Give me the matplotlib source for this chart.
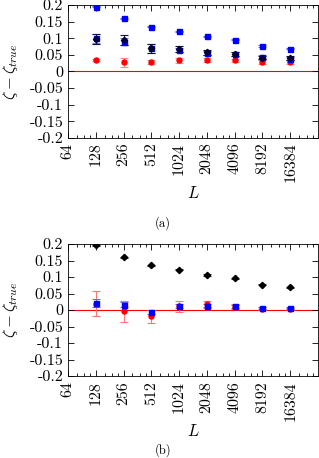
import matplotlib
matplotlib.use("Agg")
import matplotlib.pyplot as plt
from matplotlib.ticker import FixedLocator, LogLocator, NullFormatter

plt.rcParams["font.family"] = "cmr10"
plt.rcParams["mathtext.fontset"] = "cm"
plt.rcParams["axes.formatter.use_mathtext"] = True

# tailles du système
L = [128, 256, 512, 1024, 2048, 4096, 8192, 16384]
rotulos_x = [64, 128, 256, 512, 1024, 2048, 4096, 8192, 16384]
rotulos_y = [0.2, 0.15, 0.1, 0.05, 0, -0.05, -0.1, -0.15, -0.2]

# painel (a)
a_azul_alto = [0.195, 0.160, 0.135, 0.121, 0.106, 0.096, 0.077, 0.069]
a_azul_alto_err = [0.002, 0.002, 0.002, 0.002, 0.002, 0.002, 0.002, 0.002]
a_preto = [0.098, 0.095, 0.070, 0.068, 0.058, 0.053, 0.042, 0.040]
a_preto_err = [0.014, 0.015, 0.014, 0.009, 0.007, 0.007, 0.006, 0.006]
a_azul = [0.100, 0.090, 0.070, 0.066, 0.057, 0.052, 0.044, 0.038]
a_azul_err = [0.013, 0.010, 0.013, 0.006, 0.006, 0.006, 0.006, 0.005]
a_vermelho = [0.034, 0.027, 0.027, 0.033, 0.034, 0.033, 0.028, 0.028]
a_vermelho_err = [0.004, 0.013, 0.006, 0.008, 0.006, 0.005, 0.005, 0.005]

# painel (b)
b_preto = [0.196, 0.160, 0.136, 0.122, 0.106, 0.096, 0.077, 0.069]
b_preto_err = [0.002, 0.002, 0.002, 0.002, 0.002, 0.002, 0.002, 0.002]
b_vermelho = [0.019, -0.003, -0.019, 0.011, 0.017, 0.010, 0.004, 0.003]
b_vermelho_err = [0.038, 0.032, 0.019, 0.017, 0.010, 0.007, 0.005, 0.004]
b_azul = [0.021, 0.016, -0.006, 0.013, 0.013, 0.011, 0.006, 0.006]
b_azul_err = [0.012, 0.008, 0.007, 0.006, 0.005, 0.005, 0.004, 0.003]


def formatar_eixo(ax):
    ax.set_xscale("log", base=2)
    ax.set_xlim(64, 32768)
    ax.set_ylim(-0.2, 0.2)
    ax.xaxis.set_major_locator(FixedLocator(rotulos_x))
    ax.set_xticklabels([str(v) for v in rotulos_x], rotation=90)
    ax.xaxis.set_minor_locator(LogLocator(base=2, subs=(1.25, 1.5, 1.75), numticks=30))
    ax.xaxis.set_minor_formatter(NullFormatter())
    ax.yaxis.set_major_locator(FixedLocator(rotulos_y))
    ax.set_yticklabels([("%g" % v) for v in rotulos_y])
    ax.tick_params(which="both", direction="in", top=True, right=True,
                   labelsize=11.5, width=0.6)
    ax.tick_params(which="major", length=4)
    ax.tick_params(which="minor", length=2)
    ax.tick_params(axis="y", which="minor", left=False, right=False)
    for s in ax.spines.values():
        s.set_linewidth(0.6)
    ax.axhline(0, color="#ff0000", lw=0.8, zorder=1)
    ax.set_xlabel("$L$", fontsize=12, labelpad=2)
    ax.set_ylabel(r"$\zeta - \zeta_{true}$", fontsize=12, labelpad=7)


def serie(ax, y, err, cor, cor_err, marcador, ms=3.6):
    ax.errorbar(L, y, yerr=err, fmt=marcador, color=cor, ecolor=cor_err,
                ms=ms, capsize=3, elinewidth=0.8, capthick=0.8, zorder=3)


fig = plt.figure(figsize=(3.19, 4.58), dpi=100)
ax1 = fig.add_axes([0.213, 0.699, 0.784, 0.290])
ax2 = fig.add_axes([0.213, 0.179, 0.784, 0.288])

serie(ax1, a_azul_alto, a_azul_alto_err, "#0000ff", "#6666ff", "s")
serie(ax1, a_vermelho, a_vermelho_err, "#ff0000", "#ff8888", "o")
serie(ax1, a_azul, a_azul_err, "#0000ff", "#7777ff", "s")
serie(ax1, a_preto, a_preto_err, "#000033", "#111144", "D", ms=3.2)
formatar_eixo(ax1)

serie(ax2, b_preto, b_preto_err, "black", "#333333", "D", ms=3.2)
serie(ax2, b_vermelho, b_vermelho_err, "#ff0000", "#ff7777", "o")
serie(ax2, b_azul, b_azul_err, "#0000ff", "#6666ff", "s")
formatar_eixo(ax2)

fig.text(0.51, 0.513, "(a)", ha="center", va="center", fontsize=9)
fig.text(0.51, 0.017, "(b)", ha="center", va="center", fontsize=9)

fig.savefig("out.png", dpi=100)
